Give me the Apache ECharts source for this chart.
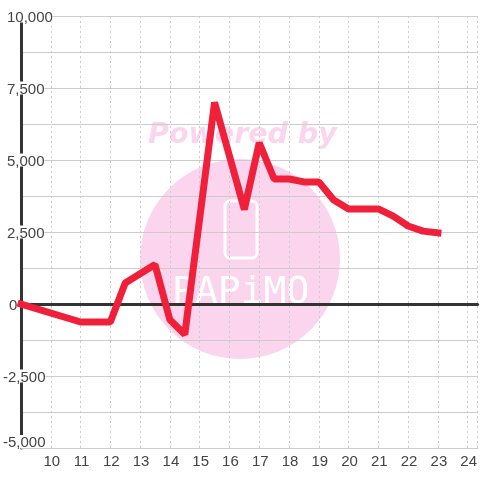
<!DOCTYPE html>
<html><head><meta charset="utf-8">
<style>html,body{margin:0;padding:0;background:#fff}#c{width:480px;height:480px}</style>
<script src="https://cdn.jsdelivr.net/npm/echarts@6/dist/echarts.min.js"></script>
</head><body><div id="c"></div>
<script>
const hours = [9, 11, 12, 12.5, 13.5, 14, 14.5, 15.5, 16.5, 17, 17.5, 18, 18.5, 19, 19.5, 20, 21, 21.5, 22, 22.5, 23];
const values = [0, -625, -625, 730, 1370, -550, -1060, 7000, 3280, 5600, 4340, 4340, 4240, 4240, 3610, 3300, 3300, 3050, 2710, 2530, 2470];
const watermarkTop = 'Powered by';
const watermarkLogo = 'PAPiMO';

const INK = '#444';
const GRID = '#ccc';
const DARK = '#333';
const PINK = '#fbd5ee';
const chart = echarts.init(document.getElementById('c'), null, {renderer: 'canvas'});
chart.setOption({
  animation: false,
  backgroundColor: '#fff',
  textStyle: {fontFamily: 'Liberation Sans'},
  grid: {left: 20, right: 0, top: 16, bottom: 32, containLabel: false},
  graphic: [
    {type: 'circle', z: -10, silent: true, shape: {cx: 240, cy: 259, r: 100}, style: {fill: PINK}},
    {type: 'rect', z: -9, silent: true, shape: {x: 225, y: 201, width: 32, height: 57, r: 5},
      style: {fill: 'none', stroke: '#fff', lineWidth: 3}},
    {type: 'text', z: -9, silent: true, left: 172, top: 274,
      style: {text: watermarkLogo, fill: '#fff', font: '38px "DejaVu Sans Mono"'}},
    {type: 'text', z: -9, silent: true, left: 148, top: 121,
      style: {text: watermarkTop, fill: PINK, font: 'italic bold 28.5px "DejaVu Sans"'}}
  ],
  xAxis: [{
    type: 'value', min: 9, max: 24.3333, interval: 1, position: 'bottom',
    axisLine: {onZero: false, show: true, lineStyle: {color: GRID, width: 1}},
    axisTick: {show: false},
    axisLabel: {color: INK, fontSize: 15, margin: 6, showMaxLabel: false, padding: [0, 0, 0, 2],
      formatter: v => (v === 9 ? '' : String(v))},
    splitLine: {show: true, lineStyle: {color: GRID, type: [2, 3], width: 1}}
  }, {
    type: 'value', min: 9, max: 24.3333, interval: 1,
    axisLine: {onZero: true, show: true, lineStyle: {color: DARK, width: 3}},
    axisTick: {show: false}, axisLabel: {show: false}, splitLine: {show: false}
  }],
  yAxis: {
    type: 'value', min: -5000, max: 10000, interval: 2500,
    axisLine: {show: true, onZero: false, lineStyle: {color: DARK, width: 3}},
    axisTick: {show: false},
    minorTick: {show: false, splitNumber: 2},
    minorSplitLine: {show: true, lineStyle: {color: GRID, width: 1}},
    splitLine: {show: true, lineStyle: {color: GRID, width: 1}},
    axisLabel: {
      color: INK, fontSize: 15, margin: 18, align: 'left', backgroundColor: '#fff', lineHeight: 10,
      padding: [3, 0, 0, 0], verticalAlignMinLabel: 'bottom',
      formatter: v => {
        const s = v.toLocaleString('en-US');
        return v < 0 ? '{n|' + s + '}' : (v === 0 ? '{z|' + s + '}' : '{p|' + s + '}');
      },
      rich: {
        n: {fontSize: 15, color: INK, lineHeight: 10},
        p: {fontSize: 15, color: INK, lineHeight: 10, padding: [0, 0, 0, 4]},
        z: {fontSize: 15, color: INK, lineHeight: 10, padding: [0, 0, 0, 6]}
      }
    }
  },
  series: [{
    type: 'line', xAxisIndex: 0, yAxisIndex: 0, clip: false, showSymbol: false, symbol: 'none', z: 5,
    data: hours.map((h, i) => [h, values[i]]),
    lineStyle: {color: '#f0203a', width: 7, cap: 'square', join: 'bevel'}
  }]
});
</script></body></html>
